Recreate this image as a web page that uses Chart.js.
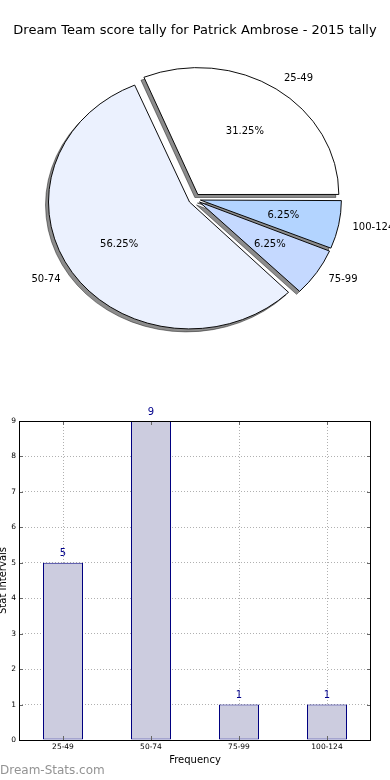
<!DOCTYPE html>
<html><head><meta charset="utf-8">
<script src="https://cdn.jsdelivr.net/npm/chart.js@4.4.1/dist/chart.umd.min.js"></script>
<style>
html,body{margin:0;padding:0;background:#fff;width:390px;height:780px;overflow:hidden;position:relative;font-family:"DejaVu Sans",sans-serif;}
#title{position:absolute;left:0;top:22px;width:390px;text-align:center;font-size:13px;line-height:16px;color:#000;white-space:nowrap;}
#pieWrap{position:absolute;left:0;top:0;width:390px;height:400px;}
#barWrap{position:absolute;left:-3px;top:390px;width:393px;height:390px;}
#wm{position:absolute;left:0;top:763px;font-size:12px;line-height:14px;color:#939393;}
</style></head><body>
<div id="pieWrap"><canvas id="pie"></canvas></div>
<div id="barWrap"><canvas id="bar"></canvas></div>
<div id="title">Dream Team score tally for Patrick Ambrose - 2015 tally</div>
<div id="wm">Dream-Stats.com</div>
<script>
// ---- data ----
const categories = ['25-49', '50-74', '75-99', '100-124'];
const values = [5, 9, 1, 1];
const sliceColors = ['#ffffff', '#ebf1fe', '#c5d9ff', '#b3d4ff'];
const yTicks = [0, 1, 2, 3, 4, 5, 6, 7, 8, 9];

const FONT = '"DejaVu Sans", sans-serif';
const R = 141;          // pie radius (x)
const YS = 0.9;         // vertical squash of pie (ellipse)
const OFFSET = 24;      // chart.js offset -> translation OFFSET/4
const total = values.reduce((a, b) => a + b, 0);

// pie goes clockwise in Chart.js; reference goes counter-clockwise from 3 o'clock
const pieLabels = categories.slice().reverse();
const pieValues = values.slice().reverse();
const pieColors = sliceColors.slice().reverse();

function ellipse(ctx, cx, cy) {
  ctx.translate(cx, cy); ctx.scale(1, YS); ctx.translate(-cx, -cy);
}

const piePlugin = {
  id: 'piePlugin',
  beforeDatasetsDraw(chart) {
    const meta = chart.getDatasetMeta(0);
    const ctx = chart.ctx;
    meta.data.forEach(el => {
      const circ = el.endAngle - el.startAngle;
      const fix = 1 - Math.sin(Math.min(Math.PI, circ));
      el.outerRadius = R - (OFFSET / 4) * fix;
    });
    const cx = meta.data[0].x, cy = meta.data[0].y;
    // shadow pass
    ctx.save();
    ctx.translate(-5000, 0);
    ctx.shadowColor = 'rgba(0,0,0,0.45)';
    ctx.shadowOffsetX = 5000 - 3;
    ctx.shadowOffsetY = 3;
    ctx.shadowBlur = 0;
    ellipse(ctx, cx, cy);
    meta.controller.draw();
    ctx.restore();
    ctx.save();
    ellipse(ctx, cx, cy);
  },
  afterDatasetsDraw(chart) {
    chart.ctx.restore();
  },
  afterDraw(chart) {
    const meta = chart.getDatasetMeta(0);
    const ctx = chart.ctx;
    ctx.save();
    ctx.font = '10px ' + FONT;
    ctx.fillStyle = '#000';
    ctx.textBaseline = 'middle';
    meta.data.forEach((el, i) => {
      const mid = (el.startAngle + el.endAngle) / 2;
      const c = Math.cos(mid), s = Math.sin(mid);
      const wx = el.x + c * OFFSET / 4;
      const wy = el.y + s * OFFSET / 4 * YS;
      ctx.textAlign = c >= 0 ? 'left' : 'right';
      ctx.fillText(pieLabels[i], wx + 1.1 * R * c, wy + 1.1 * R * s * YS);
      ctx.textAlign = 'center';
      const pct = (pieValues[i] / total * 100).toFixed(2) + '%';
      ctx.fillText(pct, wx + 0.6 * R * c, wy + 0.6 * R * s * YS);
    });
    ctx.restore();
  }
};

new Chart(document.getElementById('pie'), {
  type: 'pie',
  data: {
    labels: pieLabels,
    datasets: [{
      data: pieValues,
      backgroundColor: pieColors,
      borderColor: '#000',
      borderWidth: 1,
      offset: OFFSET
    }]
  },
  options: {
    responsive: true,
    maintainAspectRatio: false,
    animation: false,
    rotation: 90,
    radius: R,
    layout: { padding: { top: 0, right: 1, bottom: 2, left: 0 } },
    plugins: { legend: { display: false }, tooltip: { enabled: false } }
  },
  plugins: [piePlugin]
});

const barPlugin = {
  id: 'barPlugin',
  afterDraw(chart) {
    const ctx = chart.ctx;
    const a = chart.chartArea;
    const xs = chart.scales.x, ys = chart.scales.y;
    ctx.save();
    ctx.lineWidth = 1;
    // inward tick marks
    ctx.beginPath();
    yTicks.forEach(v => {
      const y = Math.round(ys.getPixelForValue(v)) + 0.5;
      ctx.moveTo(a.left, y); ctx.lineTo(a.left + 4, y);
      ctx.moveTo(a.right, y); ctx.lineTo(a.right - 4, y);
    });
    categories.forEach((c, i) => {
      const x = Math.round(xs.getPixelForValue(i)) + 0.5;
      ctx.moveTo(x, a.bottom); ctx.lineTo(x, a.bottom - 4);
      ctx.moveTo(x, a.top); ctx.lineTo(x, a.top + 4);
    });
    ctx.strokeStyle = '#666';
    ctx.stroke();
    // frame
    ctx.strokeStyle = '#000';
    ctx.strokeRect(Math.round(a.left) + 0.5, Math.round(a.top) + 0.5,
                   Math.round(a.right - a.left) - 1, Math.round(a.bottom - a.top));
    // value labels
    const meta = chart.getDatasetMeta(0);
    ctx.font = '10px ' + FONT;
    ctx.fillStyle = '#00008b';
    ctx.textAlign = 'center';
    ctx.textBaseline = 'middle';
    meta.data.forEach((el, i) => {
      ctx.fillText(String(values[i]), el.x, el.y - 9);
    });
    ctx.restore();
  }
};

new Chart(document.getElementById('bar'), {
  type: 'bar',
  data: {
    labels: categories,
    datasets: [{
      data: values,
      backgroundColor: '#ccccdf',
      borderColor: '#000080',
      borderWidth: 1,
      borderSkipped: false,
      barPercentage: 40 / 88,
      categoryPercentage: 1
    }]
  },
  options: {
    responsive: true,
    maintainAspectRatio: false,
    animation: false,
    layout: { padding: { top: 31, right: 19, bottom: 0, left: 0 } },
    plugins: { legend: { display: false }, tooltip: { enabled: false } },
    scales: {
      x: {
        z: 1,
        offset: true,
        grid: { offset: false, color: '#b0b0b0', lineWidth: 1, drawTicks: false },
        border: { display: false, dash: [1, 2] },
        ticks: { font: { size: 7.5, family: FONT }, color: '#000', padding: 3, maxRotation: 0 },
        title: { display: true, text: 'Frequency', font: { size: 10, family: FONT }, color: '#000', padding: { top: 0, bottom: 14 } },
        afterFit(s) { s.height = 40; }
      },
      y: {
        z: 1,
        min: 0,
        max: 9,
        afterBuildTicks(s) { s.ticks = yTicks.map(v => ({ value: v })); },
        grid: { color: '#b0b0b0', lineWidth: 1, drawTicks: false },
        border: { display: false, dash: [1, 2] },
        ticks: { font: { size: 7.5, family: FONT }, color: '#000', padding: 3 },
        title: { display: true, text: 'Stat Intervals', font: { size: 10, family: FONT }, color: '#000', padding: { top: 0, bottom: 0 } },
        afterFit(s) { s.width = 22; }
      }
    }
  },
  plugins: [barPlugin]
});
</script>
</body></html>
